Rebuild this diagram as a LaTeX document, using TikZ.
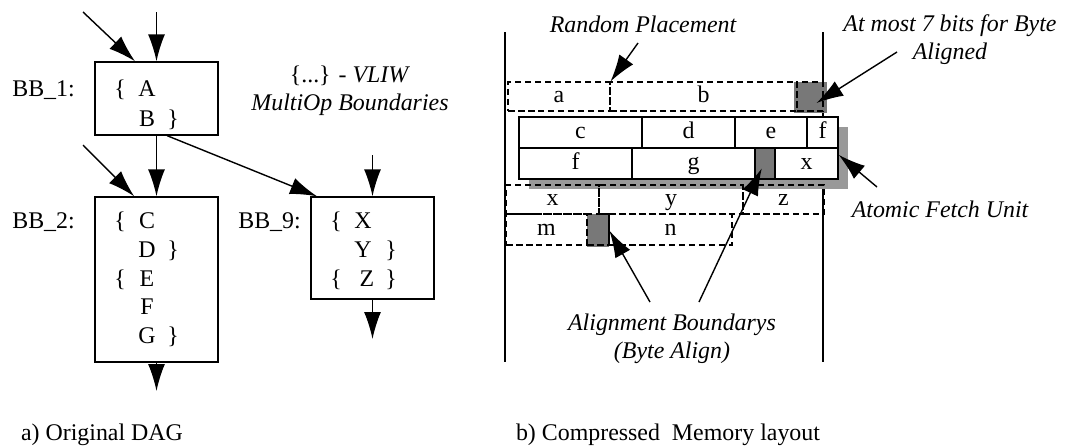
\documentclass[tikz,border=0pt]{standalone}
\usepackage{fontspec}
\setmainfont{Liberation Serif}
\usetikzlibrary{arrows.meta,calc}
\definecolor{padGray}{gray}{0.47}
\definecolor{shadowGray}{gray}{0.6}

\begin{document}
\begin{tikzpicture}
[x=0.02cm,y=-0.02cm,font=\fontsize{13.6}{16}\selectfont,
  blockBox/.style={shape=rectangle,draw,line width=0.8pt,inner sep=0pt},%
  opText/.style={anchor=base,inner sep=0pt},%
  bigArrow/.style={-{Latex[length=5.4mm,width=3.4mm]},line width=0.8pt},%
  memLine/.style={line width=0.9pt},%
  solidCell/.style={shape=rectangle,draw,line width=0.8pt,inner sep=0pt,
    text height=9.8pt,text depth=3pt},%
  dashedCell/.style={shape=rectangle,draw,line width=0.6pt,inner sep=0pt,
    dash pattern=on 1.3mm off 0.7mm,text height=9.8pt,text depth=3pt},%
  padFill/.style={shape=rectangle,fill=padGray,inner sep=0pt},%
  note/.style={font=\fontsize{13.6}{16}\selectfont\itshape,align=center,inner sep=0pt}]
\useasboundingbox (0,0) rectangle (1065,447);

%% a) the basic blocks
\node[blockBox,minimum width=2.46cm,minimum height=1.46cm] (bb1) at (156.5,98.5) {};
\node[blockBox,minimum width=2.46cm,minimum height=3.3cm] (bb2) at (156.5,279.5) {};
\node[blockBox,minimum width=2.46cm,minimum height=2.04cm] (bb9) at (372.5,248) {};
\foreach \nm/\x/\t in {lbl1/96/BB\_1:, lbl2/228/BB\_2:}
{
  \node[opText,anchor=base west] (\nm) at (12,\x) {\t};
}
\node[opText,anchor=base west] (lbl9) at (238,228) {BB\_9:};
%% the ops and the multiop braces
\foreach \t/\x/\y in {A/147/96, B/147/126, C/147/228, D/147/257, E/147/286,
  F/147/314, G/147/343, X/363/228, Y/363/257, Z/367/286}
{
  \node[opText] (op\t) at (\x,\y) {\t};
}
\foreach \nm/\x/\y in {ob1/120/96, ob2/120/228, ob3/120/286, ob4/336/228, ob5/336/286}
{
  \node[opText] (\nm) at (\x,\y) {\{};
}
\foreach \nm/\x/\y in {cb1/173/126, cb2/173/257, cb3/173/343, cb4/391/257, cb5/391/286}
{
  \node[opText] (\nm) at (\x,\y) {\}};
}
\node[note,font=\fontsize{13.6}{16}\selectfont] (vliw) at (350,91)
  {\{...\} - \textit{VLIW}\\\textit{MultiOp Boundaries}};
%% the control flow edges
\coordinate (in1) at (83,12);
\coordinate (in2) at (156.5,12);
\coordinate (in3) at (83,145);
\coordinate (in9) at (372.5,155);
\coordinate (out2) at (156.5,391);
\coordinate (out9) at (372.5,339);
\foreach \u/\v in {in1/bb1.120, in2/bb1.north, bb1.south/bb2.north, in3/bb2.105,
  bb1.-74/bb9.137, in9/bb9.north, bb2.south/out2, bb9.south/out9}
{
  \draw[bigArrow] (\u) -- (\v);
}
\node[opText] (capA) at (102,440) {a) Original DAG};

%% b) the memory layout
\draw[memLine] (505,32) -- (505,362);
\draw[memLine] (823,32) -- (823,362);
\fill[shadowGray] (529,127) rectangle (848,189);
\node[padFill,minimum width=0.66cm,minimum height=0.62cm] (padA) at (810.5,97.5) {};
\node[padFill,minimum width=0.44cm,minimum height=0.66cm] (padC) at (598,230.5) {};
%% dashed rows
\foreach \nm/\xa/\xb/\t in {a/508/610/a, b/610/797/b, p1/797/823/{}}
{
  \node[dashedCell,minimum width={(\xb-\xa)*0.02cm},minimum height=0.58cm]
    (\nm) at ({(\xa+\xb)/2},96.5) {\t};
}
\foreach \nm/\xa/\xb/\t in {xb/506/599/x, y/599/743/y, z/743/824/z}
{
  \node[dashedCell,minimum width={(\xb-\xa)*0.02cm},minimum height=0.58cm]
    (\nm) at ({(\xa+\xb)/2},199.5) {\t};
}
\foreach \nm/\xa/\xb/\t in {m/506/587/m, p2/587/609/{}, n/609/732/n}
{
  \node[dashedCell,minimum width={(\xb-\xa)*0.02cm},minimum height=0.62cm]
    (\nm) at ({(\xa+\xb)/2},229.5) {\t};
}
%% solid rows (fetch unit)
\foreach \nm/\xa/\xb/\t in {c/519/642/c, d/642/735/d, e/735/807/e, f/807/838/f}
{
  \node[solidCell,fill=white,minimum width={(\xb-\xa)*0.02cm},minimum height=0.62cm]
    (\nm) at ({(\xa+\xb)/2},132.5) {\t};
}
\foreach \nm/\xa/\xb/\t/\fl in {f2/519/632/f/white, g/632/755/g/white,
  padB/755/775/{}/padGray, xa/775/838/x/white}
{
  \node[solidCell,fill=\fl,minimum width={(\xb-\xa)*0.02cm},minimum height=0.62cm]
    (\nm) at ({(\xa+\xb)/2},163.5) {\t};
}
%% the notes
\node[note,anchor=base] (rand) at (643,32) {Random Placement};
\node[note] (bits) at (950,40) {At most 7 bits for Byte\\Aligned};
\node[note,anchor=base] (fetch) at (940,217) {Atomic Fetch Unit};
\node[note] (align) at (672,339) {Alignment Boundarys\\(Byte Align)};
\coordinate (randTail) at (638,43);
\coordinate (bitsTail) at (897,52);
\coordinate (fetchTail) at (877,187);
\coordinate (alignTailL) at (650,302);
\coordinate (alignTailR) at (699,302);
\draw[bigArrow] (randTail) -- (a.north east);
\draw[bigArrow] (bitsTail) -- ($(padA.center)!0.35!(padA.south east)$);
\draw[bigArrow] (fetchTail) -- (xa.15);
\draw[bigArrow] (alignTailL) -- (padC.east);
\draw[bigArrow] (alignTailR) -- ($(padB.center)!0.3!(padB.south west)$);
\node[opText] (capB) at (668,440) {b) Compressed~~Memory layout};
\end{tikzpicture}
\end{document}
